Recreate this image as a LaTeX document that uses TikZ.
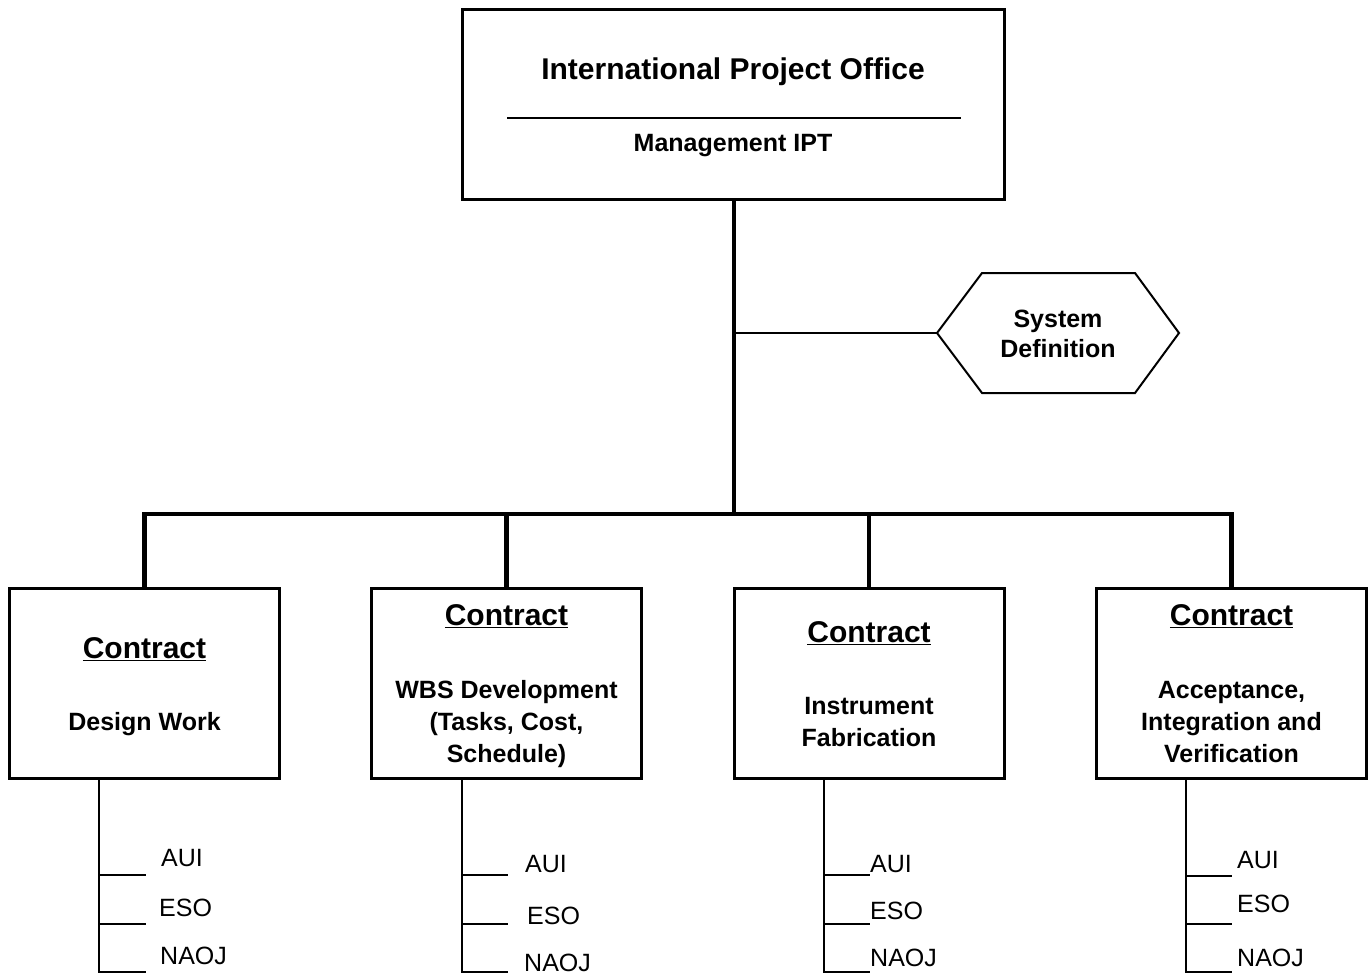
\documentclass[tikz,border=0pt]{standalone}
\usepackage{fontspec}
\setmainfont{Liberation Sans}
\begin{document}
\begin{tikzpicture}[x=1pt,y=-1pt,
  box/.style={draw, line width=3pt, inner sep=0pt},
  topbox/.style={box, minimum width=542pt, minimum height=190pt},
  subbox/.style={box, minimum width=270pt, minimum height=190pt},
  trunk/.style={line width=4.5pt},
  thinline/.style={line width=2pt},
  tree/.style={line width=1.8pt},
  hexline/.style={line width=2pt, line join=miter},
  big/.style={inner sep=0pt, anchor=base, font=\fontsize{30}{36}\selectfont\bfseries},
  bold/.style={inner sep=0pt, anchor=base, font=\fontsize{25}{32}\selectfont\bfseries},
  item/.style={inner sep=0pt, anchor=base west, font=\fontsize{25}{32}\selectfont}]
\useasboundingbox (0,0) rectangle (1372,975);

% top box
\node[topbox] (top) at (733,104) {};
\node[big] (title) at (733,79.5) {International Project Office};
\draw[line width=1.3pt] (507,118) -- (961,118);
\node[bold] (mgmt) at (733,151) {Management IPT};

% hexagon
\coordinate (hexW) at (937,333);
\draw[hexline] (hexW) -- (982,273) -- (1135,273) -- (1179,333) -- (1135,393) -- (982,393) -- cycle;
\node[bold] (sys1) at (1058,327) {System};
\node[bold] (sys2) at (1058,357) {Definition};

% bottom boxes
\node[subbox] (b1) at (144.5,683) {};
\node[subbox] (b2) at (506.5,683) {};
\node[subbox] (b3) at (869,683) {};
\node[subbox] (b4) at (1231.5,683) {};

% connectors
\coordinate (bus) at (734,514);
\coordinate (branch) at (734,333);
\draw[trunk] (top.south -| bus) -- (bus);
\draw[thinline] (branch) -- (hexW);
\draw[trunk, line join=miter] (b1.north) -- (b1.north |- bus) -- (b4.north |- bus) -- (b4.north);
\draw[trunk] (b2.north) -- (b2.north |- bus);
\draw[trunk] (b3.north) -- (b3.north |- bus);

% box texts
\node[big] (c1) at (144.5,658) {\underline{Contract}};
\node[bold] (d1) at (144.5,730) {Design Work};

\node[big] (c2) at (506.5,625) {\underline{Contract}};
\node[bold] (d2a) at (506.5,698) {WBS Development};
\node[bold] (d2b) at (506.5,730) {(Tasks, Cost,};
\node[bold] (d2c) at (506.5,762) {Schedule)};

\node[big] (c3) at (869,642) {\underline{Contract}};
\node[bold] (d3a) at (869,714) {Instrument};
\node[bold] (d3b) at (869,746) {Fabrication};

\node[big] (c4) at (1231.5,625) {\underline{Contract}};
\node[bold] (d4a) at (1231.5,698) {Acceptance,};
\node[bold] (d4b) at (1231.5,730) {Integration and};
\node[bold] (d4c) at (1231.5,762) {Verification};

% participant lists
\draw[tree] (b1.south -| 99,0) -- (99,972) -- (146,972);
\draw[tree] (99,875) -- (146,875);
\draw[tree] (99,924) -- (146,924);
\node[item] (a1) at (161,866.5) {AUI};
\node[item] (e1) at (159,916) {ESO};
\node[item] (n1) at (160,964.5) {NAOJ};

\draw[tree] (b2.south -| 462,0) -- (462,972) -- (508,972);
\draw[tree] (462,875) -- (508,875);
\draw[tree] (462,924) -- (508,924);
\node[item] (a2) at (525,872) {AUI};
\node[item] (e2) at (527,924) {ESO};
\node[item] (n2) at (524,971.5) {NAOJ};

\draw[tree] (b3.south -| 824,0) -- (824,972) -- (870,972);
\draw[tree] (824,875) -- (870,875);
\draw[tree] (824,924) -- (870,924);
\node[item] (a3) at (870,872) {AUI};
\node[item] (e3) at (870,919) {ESO};
\node[item] (n3) at (870,966) {NAOJ};

\draw[tree] (b4.south -| 1186,0) -- (1186,972) -- (1232,972);
\draw[tree] (1186,876) -- (1232,876);
\draw[tree] (1186,924) -- (1232,924);
\node[item] (a4) at (1237,868) {AUI};
\node[item] (e4) at (1237,912) {ESO};
\node[item] (n4) at (1237,966) {NAOJ};
\end{tikzpicture}
\end{document}
